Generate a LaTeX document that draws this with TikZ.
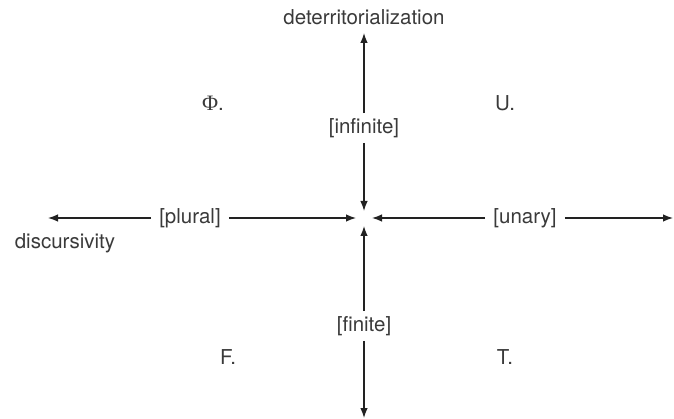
\documentclass[tikz,border=0pt]{standalone}
\usepackage{fontspec}
\setmainfont{TeX Gyre Heros}
\newfontfamily\serifphi{Liberation Serif}
\usetikzlibrary{arrows.meta}
\definecolor{txt}{HTML}{3A3A3A}
\definecolor{ln}{HTML}{222222}
\begin{document}
\begin{tikzpicture}[x=1pt,y=-1pt,
  lbl/.style={text=txt,font=\fontsize{20.5}{24}\selectfont,inner sep=0pt},
  axl/.style={lbl,inner xsep=8pt,inner ysep=5pt},
  arr/.style={draw=ln,line width=1.3pt,-{Latex[length=10pt,width=7.5pt]}}]
\useasboundingbox (0,0) rectangle (674,419);
% labels
\node[lbl] (det) at (364,17) {deterritorialization};
\node[axl] (inf) at (364,128) {[infinite]};
\node[axl] (fin) at (364,326) {[finite]};
\node[axl] (plu) at (190,218) {[plural]};
\node[axl] (una) at (525,218) {[unary]};
\node[lbl] (dis) at (65,243) {discursivity};
\node[lbl] (phi) at (213,103) {{\serifphi\fontsize{22}{24}\selectfont Φ}.};
\node[lbl] (u) at (505,103) {U.};
\node[lbl] (f) at (228,357) {F.};
\node[lbl] (t) at (505,357) {T.};
% tip coordinates
\coordinate (topend) at (364,33);
\coordinate (botend) at (364,418);
\coordinate (leftend) at (48,218);
\coordinate (rightend) at (673,218);
\coordinate (cn) at (364,211);
\coordinate (cs) at (364,226);
\coordinate (cw) at (356,218);
\coordinate (ce) at (372,218);
% arrows
\draw[arr] (inf.north) -- (topend);
\draw[arr] (inf.south) -- (cn);
\draw[arr] (fin.north) -- (cs);
\draw[arr] (fin.south) -- (botend);
\draw[arr] (plu.west) -- (leftend);
\draw[arr] (plu.east) -- (cw);
\draw[arr] (una.west) -- (ce);
\draw[arr] (una.east) -- (rightend);
\end{tikzpicture}
\end{document}
